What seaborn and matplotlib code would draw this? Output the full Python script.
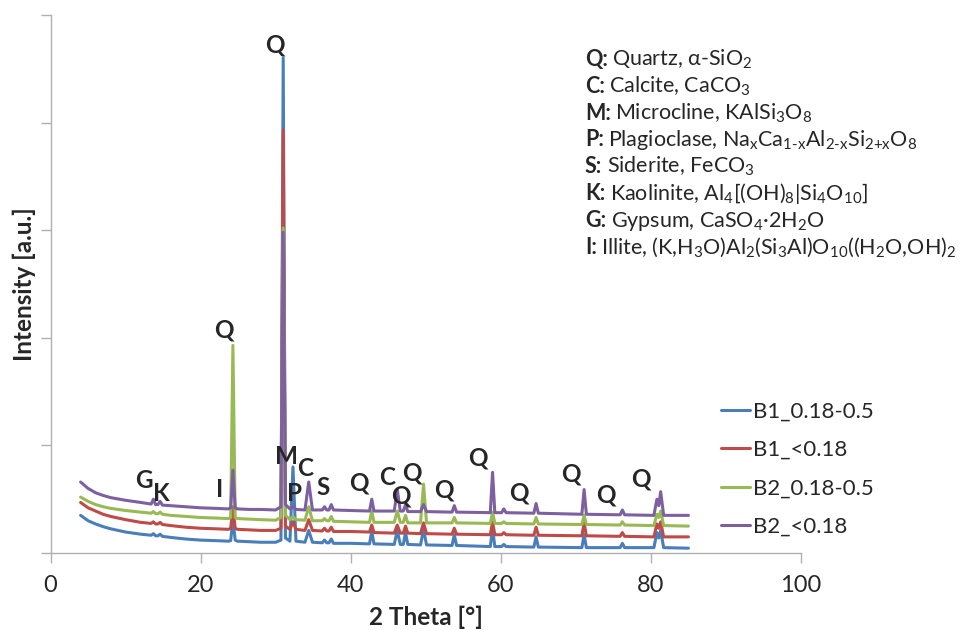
import matplotlib
matplotlib.use("Agg")
import matplotlib.pyplot as plt
import seaborn as sns
import pandas as pd

# ---------------- data ----------------
two_theta = [4.0, 5.0, 6.0, 7.0, 8.0, 10.0, 12.0, 13.4, 13.7, 14.0, 14.3, 14.6, 14.9,
             16.0, 18.0, 20.0, 22.0, 23.7, 24.0, 24.3, 24.6, 24.9, 26.5, 28.0, 30.0,
             30.7, 31.0, 31.3, 31.9, 32.3, 32.7, 33.9, 34.4, 34.9, 36.2, 36.5, 36.8,
             37.1, 37.4, 37.7, 40.0, 42.5, 42.8, 43.1, 45.8, 46.2, 46.6, 47.0, 47.3,
             47.6, 49.3, 49.7, 50.1, 53.5, 53.8, 54.1, 58.6, 58.9, 59.2, 60.1, 60.4,
             60.7, 64.4, 64.7, 65.0, 70.8, 71.1, 71.4, 75.9, 76.2, 76.5, 80.4, 80.8,
             81.05, 81.3, 81.7, 85.0]

b1_coarse = [0.35, 0.30, 0.27, 0.245, 0.225, 0.195, 0.175, 0.165, 0.18, 0.16, 0.16, 0.175, 0.155,
             0.145, 0.13, 0.12, 0.115, 0.11, 0.115, 0.31, 0.12, 0.11, 0.105, 0.10, 0.10,
             0.12, 4.60, 0.14, 0.11, 0.80, 0.11, 0.10, 0.21, 0.10, 0.095, 0.12, 0.095,
             0.095, 0.13, 0.09, 0.09, 0.085, 0.20, 0.085, 0.08, 0.21, 0.08, 0.08, 0.19,
             0.08, 0.075, 0.22, 0.075, 0.07, 0.17, 0.07, 0.06, 0.23, 0.06, 0.06, 0.08,
             0.06, 0.055, 0.15, 0.055, 0.05, 0.17, 0.05, 0.05, 0.09, 0.05, 0.05, 0.19,
             0.14, 0.21, 0.05, 0.045]

b1_fine = [0.47, 0.42, 0.39, 0.36, 0.34, 0.31, 0.285, 0.275, 0.29, 0.27, 0.27, 0.285, 0.265,
           0.255, 0.24, 0.23, 0.225, 0.22, 0.23, 0.43, 0.23, 0.22, 0.215, 0.21, 0.21,
           0.23, 3.93, 0.25, 0.22, 0.29, 0.22, 0.21, 0.31, 0.21, 0.205, 0.23, 0.205,
           0.205, 0.24, 0.20, 0.20, 0.195, 0.26, 0.19, 0.185, 0.26, 0.185, 0.185, 0.25,
           0.185, 0.18, 0.28, 0.18, 0.175, 0.23, 0.175, 0.17, 0.29, 0.17, 0.17, 0.19,
           0.17, 0.165, 0.24, 0.165, 0.16, 0.28, 0.16, 0.155, 0.19, 0.155, 0.15, 0.27,
           0.23, 0.29, 0.15, 0.15]

b2_coarse = [0.52, 0.48, 0.45, 0.43, 0.415, 0.395, 0.38, 0.37, 0.385, 0.365, 0.365, 0.38, 0.36,
             0.35, 0.34, 0.33, 0.325, 0.32, 0.33, 1.93, 0.33, 0.32, 0.315, 0.31, 0.305,
             0.33, 3.02, 0.35, 0.31, 0.34, 0.31, 0.305, 0.43, 0.30, 0.30, 0.32, 0.30,
             0.30, 0.34, 0.295, 0.29, 0.285, 0.39, 0.285, 0.285, 0.39, 0.285, 0.285, 0.35,
             0.28, 0.28, 0.64, 0.28, 0.28, 0.33, 0.28, 0.275, 0.38, 0.275, 0.275, 0.29,
             0.275, 0.27, 0.33, 0.27, 0.265, 0.35, 0.265, 0.26, 0.29, 0.26, 0.255, 0.36,
             0.33, 0.39, 0.255, 0.25]

b2_fine = [0.66, 0.60, 0.56, 0.535, 0.515, 0.49, 0.47, 0.455, 0.50, 0.45, 0.45, 0.48, 0.445,
           0.44, 0.43, 0.42, 0.415, 0.41, 0.42, 0.77, 0.42, 0.41, 0.405, 0.405, 0.40,
           0.43, 2.98, 0.45, 0.41, 0.43, 0.405, 0.40, 0.66, 0.40, 0.40, 0.43, 0.40,
           0.40, 0.45, 0.40, 0.395, 0.39, 0.50, 0.39, 0.39, 0.59, 0.39, 0.39, 0.45,
           0.385, 0.385, 0.45, 0.385, 0.38, 0.44, 0.38, 0.375, 0.75, 0.375, 0.375, 0.41,
           0.375, 0.37, 0.46, 0.37, 0.36, 0.59, 0.36, 0.355, 0.40, 0.355, 0.35, 0.50,
           0.44, 0.57, 0.35, 0.35]

series_names = ["B1_0.18-0.5", "B1_<0.18", "B2_0.18-0.5", "B2_<0.18"]
series_colors = ["#4A7EBB", "#BE4B48", "#98B954", "#7D60A0"]

peak_labels = ["Q", "Q", "G", "K", "I", "M", "C", "P", "S", "Q", "C", "Q", "Q", "Q", "Q", "Q", "Q", "Q", "Q"]
peak_label_x = [29.9, 23.1, 12.4, 14.7, 22.5, 31.4, 33.9, 32.5, 36.3, 41.1, 44.9, 46.7, 48.1,
                52.4, 57.0, 62.4, 69.3, 74.0, 78.7]
peak_label_y = [4.72, 2.07, 0.67, 0.55, 0.59, 0.90, 0.79, 0.55, 0.61, 0.65, 0.70, 0.53, 0.74,
                0.59, 0.88, 0.56, 0.73, 0.54, 0.69]

key_codes = ["Q:", "C:", "M:", "P:", "S:", "K:", "G:", "I:"]
key_names = [
    r"Quartz, α-SiO$_2$",
    r"Calcite, CaCO$_3$",
    r"Microcline, KAlSi$_3$O$_8$",
    r"Plagioclase, Na$_\mathrm{x}$Ca$_{\mathrm{1\text{-}x}}$Al$_{\mathrm{2\text{-}x}}$Si$_{\mathrm{2{+}x}}$O$_8$",
    r"Siderite, FeCO$_3$",
    r"Kaolinite, Al$_4$[(OH)$_8$|Si$_4$O$_{10}$]",
    r"Gypsum, CaSO$_4$·2H$_2$O",
    r"Illite, (K,H$_3$O)Al$_2$(Si$_3$Al)O$_{10}$((H$_2$O,OH)$_2$",
]

# ---------------- build table ----------------
frames = []
for name, ys in zip(series_names, [b1_coarse, b1_fine, b2_coarse, b2_fine]):
    assert len(ys) == len(two_theta)
    frames.append(pd.DataFrame({"two_theta": two_theta, "intensity": ys, "sample": name}))
df = pd.concat(frames, ignore_index=True)

# ---------------- style ----------------
sns.set_theme(style="white")
plt.rcParams["font.family"] = ["Lato", "DejaVu Sans"]
plt.rcParams["mathtext.fontset"] = "custom"
plt.rcParams["mathtext.rm"] = "Lato"
plt.rcParams["mathtext.it"] = "Lato:italic"
plt.rcParams["mathtext.bf"] = "Lato:bold"

fig = plt.figure(figsize=(9.69, 6.30), dpi=100)
ax = fig.add_axes([0.0522, 0.1222, 0.7744, 0.8540])

sns.lineplot(data=df, x="two_theta", y="intensity", hue="sample",
             hue_order=series_names, palette=series_colors,
             estimator=None, sort=False, linewidth=2.2, ax=ax)

ax.set_xlim(0, 100)
ax.set_ylim(0, 5)
ax.set_xticks([0, 20, 40, 60, 80, 100])
ax.set_yticks([0, 1, 2, 3, 4, 5])
ax.set_yticklabels([])
ax.tick_params(axis="x", labelsize=17, length=7, width=1, color="#b0b0b0", pad=9,
               direction="out", bottom=True)
ax.tick_params(axis="y", length=7, width=1, color="#b0b0b0", direction="out", left=True)
for side in ["top", "right"]:
    ax.spines[side].set_visible(False)
for side in ["left", "bottom"]:
    ax.spines[side].set_color("#b0b0b0")
    ax.spines[side].set_linewidth(1)

ax.set_xlabel("2 Theta [°]", fontsize=17.5, fontweight="bold", labelpad=7)
ax.set_ylabel("Intensity [a.u.]", fontsize=17.5, fontweight="bold", labelpad=0)

for lab, lx, ly in zip(peak_labels, peak_label_x, peak_label_y):
    ax.text(lx, ly, lab, fontsize=17.5, fontweight="bold", ha="center", va="center")

leg = ax.legend(loc="upper left", bbox_to_anchor=(0.744, 0.362),
                bbox_transform=fig.transFigure, frameon=False, fontsize=16,
                handlelength=1.3, handletextpad=0.15, labelspacing=0.82,
                borderpad=0, borderaxespad=0)
for line in leg.get_lines():
    line.set_linewidth(2.2)

# mineral key: bold code followed by normal-weight name
fig.canvas.draw()
renderer = fig.canvas.get_renderer()
key_x0 = 585 / 969
for i, (code, name) in enumerate(zip(key_codes, key_names)):
    yb = 1 - (66 + i * 26.8) / 630
    t = fig.text(key_x0, yb, code, fontsize=15.5, fontweight="bold",
                 ha="left", va="baseline")
    bb = t.get_window_extent(renderer=renderer)
    x_next = (bb.x1 + 4.5) / fig.bbox.width
    fig.text(x_next, yb, name, fontsize=15.5, ha="left", va="baseline")

fig.savefig("out.png", dpi=100)
